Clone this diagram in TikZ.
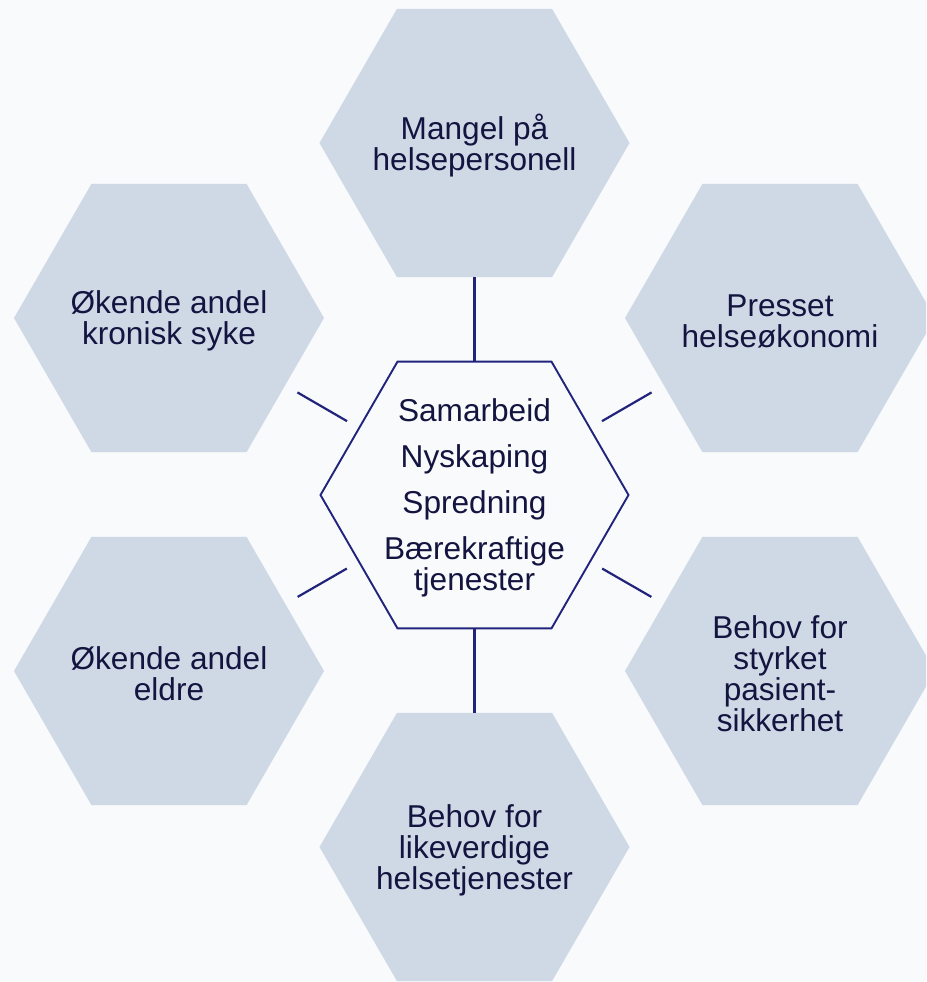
\documentclass[tikz,border=0pt]{standalone}
\usepackage{fontspec}
\setmainfont{Liberation Sans}
\usetikzlibrary{shapes.geometric}
\definecolor{bgcol}{HTML}{F8FAFB}
\definecolor{hexfill}{HTML}{CFD9E6}
\definecolor{linecol}{HTML}{22237A}
\definecolor{textcol}{HTML}{13143F}
\begin{document}
\begin{tikzpicture}[x=1pt,y=-1pt,
  hexbox/.style={regular polygon, regular polygon sides=6, minimum size=310pt, inner sep=0pt, fill=hexfill, draw=none},
  hubbox/.style={regular polygon, regular polygon sides=6, minimum size=308pt, inner sep=0pt, fill=bgcol, draw=linecol, line width=1.9pt},
  lbl/.style={text=textcol, align=center, font=\fontsize{31.6pt}{31pt}\selectfont, inner sep=0pt, yshift=-3pt},
  conn/.style={draw=linecol, line width=2.2pt}]
\useasboundingbox[fill=bgcol] (0,0) rectangle (926,982);
\begin{scope}
\clip (0,0) rectangle (926,982);
\node[hexbox] (top) at (474.5,143) {};
\node[hexbox] (bot) at (474.5,847) {};
\node[hexbox] (lu) at (169,318) {};
\node[hexbox] (ll) at (169,671) {};
\node[hexbox] (ru) at (780,318) {};
\node[hexbox] (rl) at (780,671) {};
\node[hubbox] (hub) at (474.5,495) {};
\end{scope}
\draw[conn] (hub) -- (top);
\draw[conn] (hub) -- (bot);
\draw[conn, shorten <=13pt, shorten >=14pt] (hub) -- (lu);
\draw[conn, shorten <=13pt, shorten >=14pt] (hub) -- (ll);
\draw[conn, shorten <=13pt, shorten >=14pt] (hub) -- (ru);
\draw[conn, shorten <=13pt, shorten >=14pt] (hub) -- (rl);
\node[lbl] (ttop) at (top) {Mangel på\\helsepersonell};
\node[lbl] (tbot) at (bot) {Behov for\\likeverdige\\helsetjenester};
\node[lbl] (tlu) at (lu) {Økende andel\\kronisk syke};
\node[lbl] (tll) at (ll) {Økende andel\\eldre};
\node[lbl] (tru) at (ru) {Presset\\helseøkonomi};
\node[lbl] (trl) at (rl) {Behov for\\styrket\\pasient-\\sikkerhet};
\node[lbl] (thub) at (hub) {Samarbeid\\[15pt]Nyskaping\\[15pt]Spredning\\[15pt]Bærekraftige\\tjenester};
\end{tikzpicture}
\end{document}
